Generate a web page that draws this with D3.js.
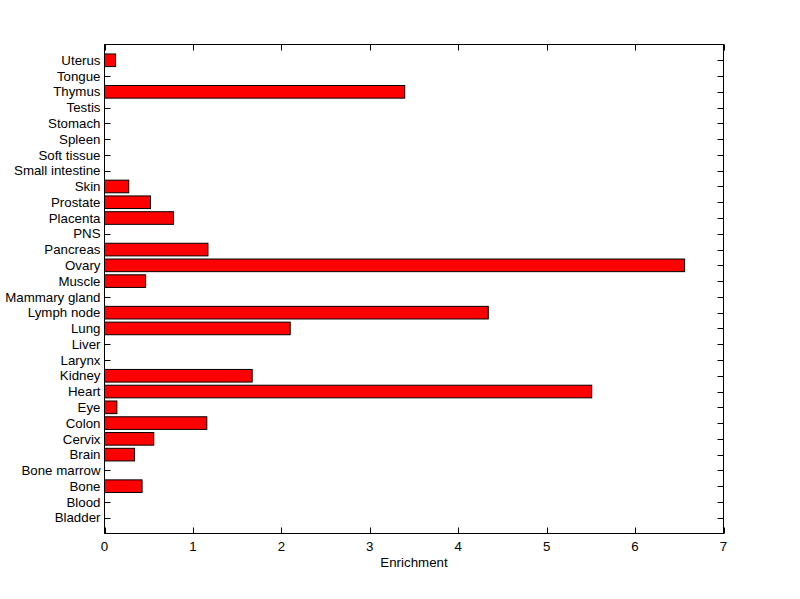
<!DOCTYPE html>
<html>
<head>
<meta charset="utf-8">
<script src="https://cdn.jsdelivr.net/npm/d3@7"></script>
<style>
html,body{margin:0;padding:0;background:#fff;}
svg text{font-family:"Liberation Sans",Arial,sans-serif;font-size:13.3px;fill:#000;}
</style>
</head>
<body>
<svg id="chart" width="800" height="599"></svg>
<script>
const categories = ["Bladder","Blood","Bone","Bone marrow","Brain","Cervix","Colon","Eye","Heart","Kidney","Larynx","Liver","Lung","Lymph node","Mammary gland","Muscle","Ovary","Pancreas","PNS","Placenta","Prostate","Skin","Small intestine","Soft tissue","Spleen","Stomach","Testis","Thymus","Tongue","Uterus"];
const values = [0,0,0.425,0,0.34,0.557,1.157,0.14,5.51,1.67,0,0,2.10,4.34,0,0.465,6.56,1.17,0,0.78,0.52,0.274,0,0,0,0,0,3.395,0,0.125];
const xTicks = [0,1,2,3,4,5,6,7];
const xLabel = "Enrichment";

const svg = d3.select("#chart");
const mLeft = 104.5, mRight = 723.5, mTop = 44.5, mBottom = 533.5;
const x = d3.scaleLinear().domain([0,7]).range([mLeft,mRight]);
const y = d3.scaleLinear().domain([0,categories.length+1]).range([mBottom,mTop]);
const barH = y(0) - y(0.8);
const data = categories.map((c,i)=>({c, v: values[i], pos: i+1}));

const g = svg.append("g");
g.selectAll("line.xb").data(xTicks).enter().append("line")
  .attr("x1",d=>Math.round(x(d))+0.5).attr("x2",d=>Math.round(x(d))+0.5)
  .attr("y1",mBottom).attr("y2",mBottom-6).attr("stroke","#000");
g.selectAll("line.xt").data(xTicks).enter().append("line")
  .attr("x1",d=>Math.round(x(d))+0.5).attr("x2",d=>Math.round(x(d))+0.5)
  .attr("y1",mTop).attr("y2",mTop+6).attr("stroke","#000");
g.selectAll("line.yl").data(data).enter().append("line")
  .attr("x1",mLeft).attr("x2",mLeft+6)
  .attr("y1",d=>Math.round(y(d.pos))+0.5).attr("y2",d=>Math.round(y(d.pos))+0.5).attr("stroke","#000");
g.selectAll("line.yr").data(data).enter().append("line")
  .attr("x1",mRight).attr("x2",mRight-6)
  .attr("y1",d=>Math.round(y(d.pos))+0.5).attr("y2",d=>Math.round(y(d.pos))+0.5).attr("stroke","#000");

svg.append("g").selectAll("rect").data(data.filter(d=>d.v>0)).enter().append("rect")
  .attr("x",x(0)).attr("y",d=>y(d.pos)-barH/2)
  .attr("width",d=>x(d.v)-x(0)).attr("height",barH)
  .attr("fill","#ff0000").attr("stroke","#000").attr("stroke-width",1);

svg.append("rect").attr("x",mLeft).attr("y",mTop).attr("width",mRight-mLeft).attr("height",mBottom-mTop)
  .attr("fill","none").attr("stroke","#000").attr("stroke-width",1);

svg.append("g").selectAll("text").data(data).enter().append("text")
  .attr("x",mLeft-4).attr("y",d=>y(d.pos)).attr("dy","0.35em")
  .attr("text-anchor","end").text(d=>d.c);
svg.append("g").selectAll("text").data(xTicks).enter().append("text")
  .attr("x",d=>x(d)).attr("y",mBottom+17).attr("text-anchor","middle").text(d=>d);
svg.append("text").attr("x",(mLeft+mRight)/2).attr("y",mBottom+33).attr("text-anchor","middle").text(xLabel);
</script>
</body>
</html>
